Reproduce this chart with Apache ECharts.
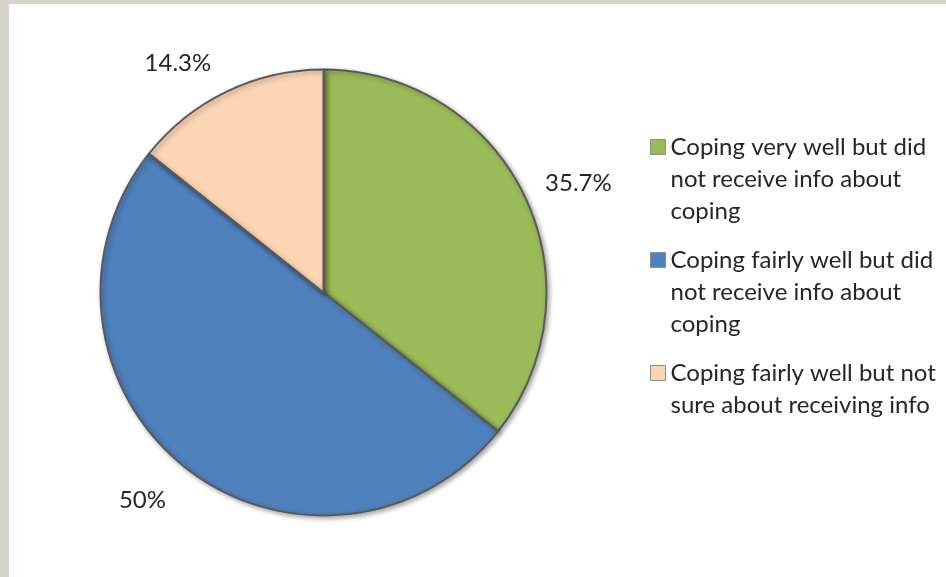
<!DOCTYPE html>
<html>
<head>
<meta charset="utf-8">
<script src="https://cdn.jsdelivr.net/npm/echarts@6/dist/echarts.min.js"></script>
<style>
  html, body { margin: 0; padding: 0; width: 946px; height: 577px; background: #d6d4cc; overflow: hidden; }
  #chart { position: absolute; left: 9px; top: 4px; width: 937px; height: 573px; background: #fff; }
</style>
</head>
<body>
<div id="chart"></div>
<script>
// data
const categories = [
  'Coping very well but did not receive info about coping',
  'Coping fairly well but did not receive info about coping',
  'Coping fairly well but not sure about receiving info'
]
const legendLines = [
  ['Coping very well but did', 'not receive info about', 'coping'],
  ['Coping fairly well but did', 'not receive info about', 'coping'],
  ['Coping fairly well but not', 'sure about receiving info']
]
const percents = [35.7, 50, 14.3]

// styling
const colors = ['#9bbb59', '#4f81bd', '#fcd5b5']
const labelOffsets = [[9, 9], [-11, -6], [-27, 17]]
const fontFamily = 'Lato'
const textColor = '#262626'

// legend text is centred on the icon, so pad each entry with blank lines
// until its first line is the middle one (and all entries are 5 lines tall)
function legendText(name) {
  const out = [' ', ' '].concat(legendLines[categories.indexOf(name)])
  while (out.length < 5) out.push(' ')
  return out.join('\n')
}

const chart = echarts.init(document.getElementById('chart'))

const option = {
  animation: false,
  legend: {
    orient: 'vertical',
    left: 641,
    top: 63,
    padding: 0,
    itemGap: -47,
    itemWidth: 15,
    itemHeight: 15,
    icon: 'rect',
    selectedMode: false,
    itemStyle: {
      borderColor: '#8c8c8c',
      borderWidth: 1,
      shadowBlur: 0,
      shadowColor: 'transparent',
      shadowOffsetX: 0,
      shadowOffsetY: 0
    },
    textStyle: {
      fontFamily: fontFamily,
      fontSize: 24,
      lineHeight: 32,
      color: textColor
    },
    data: categories,
    formatter: legendText
  },
  series: [
    {
      type: 'pie',
      center: [314.5, 288.5],
      radius: 223,
      startAngle: 90,
      clockwise: true,
      silent: true,
      label: { show: false },
      labelLine: { show: false },
      itemStyle: {
        borderColor: '#5a5a5a',
        borderWidth: 2,
        shadowBlur: 5,
        shadowColor: 'rgba(0,0,0,0.35)',
        shadowOffsetX: 2,
        shadowOffsetY: 2
      },
      data: categories.map((name, i) => ({
        name: name,
        value: percents[i],
        itemStyle: { color: colors[i] }
      }))
    },
    {
      // transparent ring only used to place the percent labels outside the pie
      type: 'pie',
      center: [314.5, 288.5],
      radius: [250, 290],
      startAngle: 90,
      clockwise: true,
      silent: true,
      legendHoverLink: false,
      itemStyle: { color: 'transparent', borderWidth: 0 },
      labelLine: { show: false },
      label: {
        show: true,
        position: 'inside',
        formatter: '{c}%',
        fontFamily: fontFamily,
        fontSize: 24,
        color: textColor
      },
      data: categories.map((name, i) => ({
        name: name,
        value: percents[i],
        label: { offset: labelOffsets[i] }
      }))
    }
  ]
}

chart.setOption(option)
</script>
</body>
</html>
